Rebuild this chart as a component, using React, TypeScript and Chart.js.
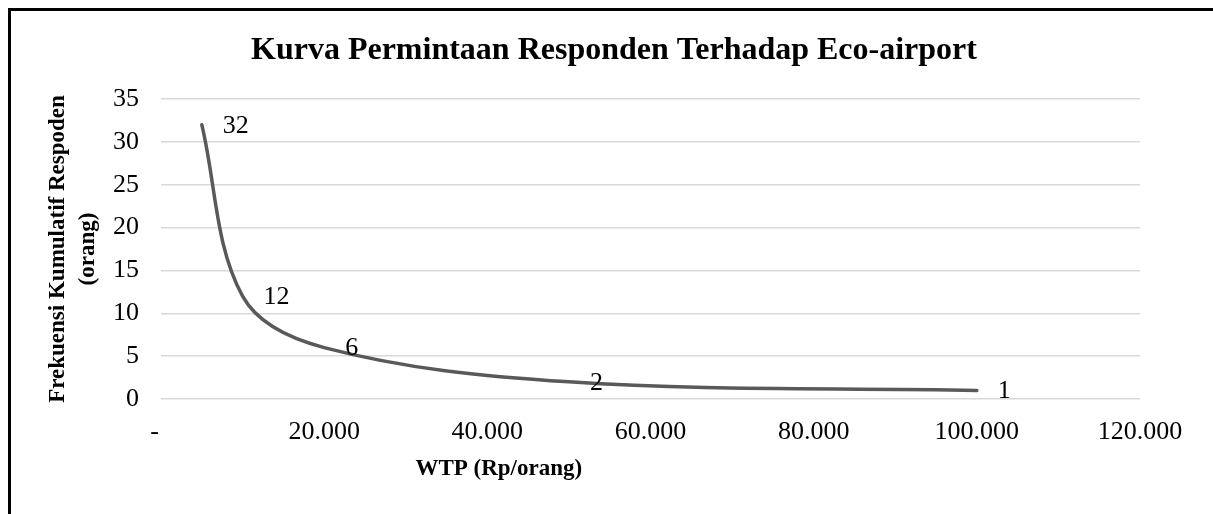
import React, { useEffect, useRef } from 'react';
import { Chart, registerables } from 'chart.js';

Chart.register(...registerables);

const chartTitle = 'Kurva Permintaan Responden Terhadap Eco-airport';
const xAxisTitle = 'WTP (Rp/orang)';
const yAxisTitle = ['Frekuensi Kumulatif Respoden', '(orang)'];

const wtp = [5000, 10000, 20000, 50000, 100000];
const respondents = [32, 12, 6, 2, 1];

const xTicks = [0, 20000, 40000, 60000, 80000, 100000, 120000];
const xTickLabels = ['-  ', '20.000', '40.000', '60.000', '80.000', '100.000', '120.000'];
const yTicks = [0, 5, 10, 15, 20, 25, 30, 35];

const FONT = '"Liberation Serif", "Times New Roman", serif';

export default function App() {
  const ref = useRef<HTMLCanvasElement>(null);

  useEffect(() => {
    document.documentElement.style.overflow = 'hidden';
    document.body.style.margin = '0';
    const canvas = ref.current;
    if (!canvas) return;

    const textPlugin = {
      id: 'textPlugin',
      beforeDraw(chart: any) {
        const ctx = chart.ctx;
        ctx.save();
        ctx.fillStyle = '#fff';
        ctx.fillRect(0, 0, chart.width, chart.height);
        ctx.restore();
      },
      afterDraw(chart: any) {
        const ctx = chart.ctx;
        const area = chart.chartArea;
        ctx.save();
        ctx.fillStyle = '#000';
        // chart title
        ctx.font = `bold 32px ${FONT}`;
        ctx.textAlign = 'center';
        ctx.textBaseline = 'middle';
        ctx.fillText(chartTitle, 603, 40);
        // x axis title
        ctx.font = `bold 23px ${FONT}`;
        ctx.fillText(xAxisTitle, area.left + (area.right - area.left) * 0.345, 458);
        // data labels
        ctx.font = `26px ${FONT}`;
        ctx.textAlign = 'left';
        const meta = chart.getDatasetMeta(0);
        meta.data.forEach((pt: any, i: number) => {
          ctx.fillText(String(respondents[i]), pt.x + 21, pt.y + 1);
        });
        ctx.restore();
      },
    };

    const chart = new Chart(canvas, {
      type: 'scatter',
      data: {
        datasets: [
          {
            data: wtp.map((x, i) => ({ x, y: respondents[i] })),
            showLine: true,
            borderColor: '#595959',
            backgroundColor: '#595959',
            borderWidth: 3.5,
            pointRadius: 0,
            pointHoverRadius: 0,
            tension: 0.35,
            borderCapStyle: 'round',
          },
        ],
      },
      options: {
        responsive: false,
        animation: false,
        events: [],
        layout: { padding: { left: 0, top: 88, right: 73, bottom: 0 } },
        plugins: {
          legend: { display: false },
          title: { display: false },
          tooltip: { enabled: false },
        },
        scales: {
          x: {
            type: 'linear',
            min: 0,
            max: 120000,
            afterBuildTicks: (scale: any) => {
              scale.ticks = xTicks.map((v) => ({ value: v }));
            },
            afterFit: (scale: any) => {
              scale.height = 115;
            },
            grid: { display: false, drawTicks: false },
            border: { display: false },
            ticks: {
              padding: 18,
              maxRotation: 0,
              autoSkip: false,
              color: '#000',
              font: { family: FONT, size: 26, lineHeight: 1.2 },
              callback: (value: any) => {
                const i = xTicks.indexOf(Number(value));
                return i >= 0 ? xTickLabels[i] : '';
              },
            },
          },
          y: {
            type: 'linear',
            min: 0,
            max: 35,
            afterBuildTicks: (scale: any) => {
              scale.ticks = yTicks.map((v) => ({ value: v }));
            },
            afterFit: (scale: any) => {
              scale.width = 150;
            },
            grid: { color: '#d9d9d9', lineWidth: 1.5, drawTicks: false },
            border: { display: false },
            ticks: {
              padding: 22,
              autoSkip: false,
              color: '#000',
              font: { family: FONT, size: 26, lineHeight: 1.2 },
            },
            title: {
              display: true,
              text: yAxisTitle,
              color: '#000',
              padding: { top: 32, bottom: 0 },
              font: { family: FONT, size: 23, weight: 'bold', lineHeight: 1.3 },
            },
          },
        },
      },
      plugins: [textPlugin],
    } as any);

    return () => chart.destroy();
  }, []);

  return (
    <div
      style={{
        position: 'absolute',
        left: 8,
        top: 8,
        width: 1205,
        height: 506,
        borderTop: '3px solid #000',
        borderLeft: '3px solid #000',
        background: '#fff',
        boxSizing: 'border-box',
        overflow: 'hidden',
      }}
    >
      <canvas ref={ref} width={1202} height={503} style={{ display: 'block', width: 1202, height: 503 }} />
    </div>
  );
}
